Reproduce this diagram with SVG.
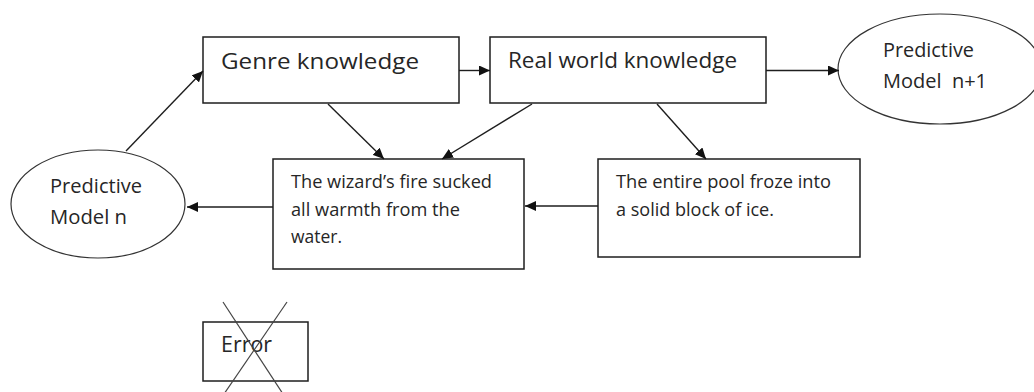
<svg xmlns="http://www.w3.org/2000/svg" width="1034" height="392" viewBox="0 0 1034 392">
<style>
.box{fill:#fff;stroke:#1e1e1e;stroke-width:1.5}
.ell{fill:#fff;stroke:#333;stroke-width:1.2}
.t{font-family:"Open Sans","DejaVu Sans",sans-serif;fill:#262626}
.big{font-size:22px}
.mid{font-size:20px}
.sm{font-size:18px}
.con line{stroke:#1e1e1e;stroke-width:1.4;marker-end:url(#ah)}
.x{stroke:#444;stroke-width:1.2}
</style>
<defs>
<marker id="ah" markerUnits="userSpaceOnUse" markerWidth="11" markerHeight="10" refX="11" refY="5" orient="auto">
<path d="M0,0 L11,5 L0,10 z" fill="#111"/>
</marker>
</defs>
<g id="genre">
<rect class="box" x="203" y="37" width="256" height="66"/>
<text class="t big" x="221" y="69" textLength="198" lengthAdjust="spacingAndGlyphs">Genre knowledge</text>
</g>
<g id="real">
<rect class="box" x="490" y="37" width="276" height="66"/>
<text class="t big" x="508" y="68" textLength="229" lengthAdjust="spacingAndGlyphs">Real world knowledge</text>
</g>
<g id="pred-n1">
<ellipse class="ell" cx="940" cy="69" rx="102" ry="55"/>
<text class="t mid" x="883" y="57" textLength="91" lengthAdjust="spacingAndGlyphs">Predictive</text>
<text class="t mid" x="883" y="88" xml:space="preserve" textLength="104" lengthAdjust="spacingAndGlyphs">Model  n+1</text>
</g>
<g id="pred-n">
<ellipse class="ell" cx="98" cy="204" rx="87" ry="54"/>
<text class="t mid" x="50" y="193" textLength="92" lengthAdjust="spacingAndGlyphs">Predictive</text>
<text class="t mid" x="50" y="224" textLength="77" lengthAdjust="spacingAndGlyphs">Model n</text>
</g>
<g id="wizard">
<rect class="box" x="273" y="159" width="251" height="110"/>
<text class="t sm" x="291" y="188" textLength="201" lengthAdjust="spacingAndGlyphs">The wizard’s fire sucked</text>
<text class="t sm" x="291" y="216" textLength="169" lengthAdjust="spacingAndGlyphs">all warmth from the</text>
<text class="t sm" x="291" y="243" textLength="51" lengthAdjust="spacingAndGlyphs">water.</text>
</g>
<g id="pool">
<rect class="box" x="598" y="159" width="262" height="98"/>
<text class="t sm" x="616" y="188" textLength="215" lengthAdjust="spacingAndGlyphs">The entire pool froze into</text>
<text class="t sm" x="616" y="216" textLength="158" lengthAdjust="spacingAndGlyphs">a solid block of ice.</text>
</g>
<g id="error">
<rect class="box" x="203" y="322" width="105" height="59"/>
<text class="t big" x="221" y="352" textLength="51" lengthAdjust="spacingAndGlyphs">Error</text>
<line class="x" x1="223" y1="302" x2="283" y2="394"/>
<line class="x" x1="287" y1="302" x2="224" y2="394"/>
</g>
<g id="connectors" class="con">
<line x1="126" y1="151" x2="203" y2="71"/>
<line x1="459" y1="70.5" x2="490" y2="70.5"/>
<line x1="766" y1="70.5" x2="839" y2="70.5"/>
<line x1="328" y1="104" x2="384" y2="159"/>
<line x1="532" y1="104" x2="442" y2="159"/>
<line x1="657" y1="104" x2="706" y2="159"/>
<line x1="598" y1="206" x2="525" y2="206"/>
<line x1="273" y1="207" x2="187" y2="207"/>
</g>
</svg>
